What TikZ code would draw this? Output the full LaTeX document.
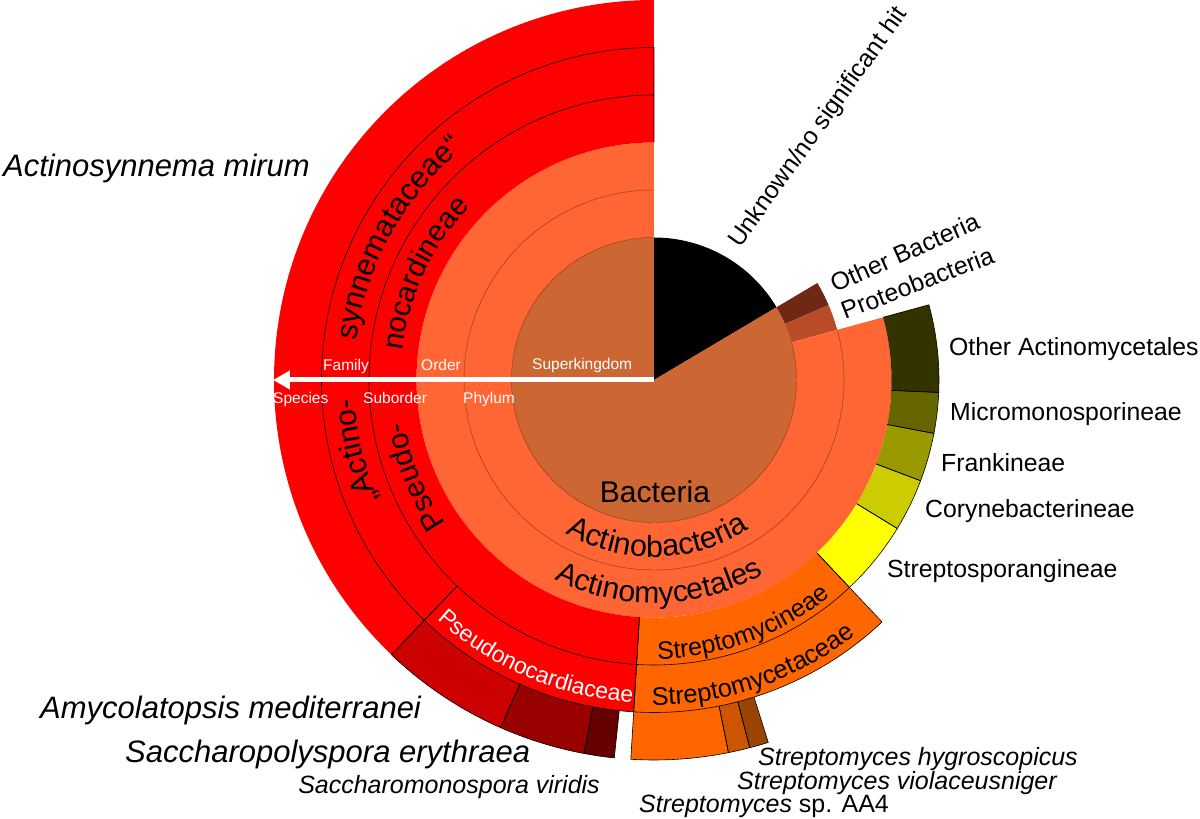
\documentclass[tikz,border=0pt]{standalone}
\usepackage{fontspec}
\setmainfont{Liberation Sans}
\usetikzlibrary{arrows.meta,decorations.text}
\definecolor{bact}{HTML}{CC6633}
\definecolor{actino}{HTML}{FF6633}
\definecolor{otherbact}{HTML}{6E2814}
\definecolor{proteo}{HTML}{B94B28}
\definecolor{pred}{HTML}{FF0000}
\definecolor{strepto}{HTML}{FF6600}
\definecolor{sporang}{HTML}{FFFF00}
\definecolor{coryne}{HTML}{CCCC00}
\definecolor{franki}{HTML}{999900}
\definecolor{micro}{HTML}{666600}
\definecolor{otheract}{HTML}{333300}
\definecolor{amyco}{HTML}{CC0000}
\definecolor{sacpoly}{HTML}{990000}
\definecolor{sacmono}{HTML}{660000}
\definecolor{violac}{HTML}{CC5500}
\definecolor{hygro}{HTML}{994400}
\definecolor{thinline}{HTML}{8C3214}
\tikzset{
  segline/.style={draw=black,line width=0.6pt,line join=miter},
  innerline/.style={draw=thinline,line width=0.45pt},
  axislabel/.style={text=white,font=\fontsize{15.5pt}{15.5pt}\selectfont,inner sep=0pt,anchor=base west},
  outlabel/.style={text=black,font=\fontsize{24.8pt}{24.8pt}\selectfont,inner sep=0pt,anchor=base west},
  biglabel/.style={text=black,font=\itshape\fontsize{31pt}{31pt}\selectfont,inner sep=0pt,anchor=base west},
  smalllabel/.style={text=black,font=\itshape\fontsize{25pt}{25pt}\selectfont,inner sep=0pt,anchor=base west}
}
\newcommand{\annfill}[5]{\fill[#1] (#2:#4pt) arc[start angle=#2,end angle=#3,radius=#4pt] -- (#3:#5pt) arc[start angle=#3,end angle=#2,radius=#5pt] -- cycle;}
\newcommand{\annedge}[4]{\draw[segline] (#1:#3pt) -- (#1:#4pt) arc[start angle=#1,end angle=#2,radius=#4pt] -- (#2:#3pt);}
\newcommand{\arctext}[6]{\path[decorate,decoration={text along path,text align=center,text={|\fontsize{#5pt}{#5pt}\selectfont|#6},#1}] (#2:#4pt) arc[start angle=#2,end angle=#3,radius=#4pt];}
\begin{document}
\begin{tikzpicture}[x=1pt,y=1pt]
\fill[white] (-654,-439) rectangle (546,380);
\useasboundingbox (-654,-439) rectangle (546,380);
% superkingdom
\fill[black] (0,0) -- (30.7:142.5pt) arc[start angle=30.7,end angle=90,radius=142.5pt] -- cycle;
\fill[bact] (0,0) -- (90:142.5pt) arc[start angle=90,end angle=390.7,radius=142.5pt] -- cycle;
% phylum
\annfill{otherbact}{23.2}{30.7}{142.5}{190}
\annfill{proteo}{15.3}{23.2}{142.5}{190}
\annfill{actino}{90}{375.3}{142.5}{190}
% order
\annfill{actino}{90}{375.3}{190}{237.5}
\draw[innerline] (90:142.5pt) arc[start angle=90,end angle=375.3,radius=142.5pt];
\draw[innerline] (90:190pt) arc[start angle=90,end angle=375.3,radius=190pt];
% suborder
\annfill{pred}{90}{266.5}{237.5}{285}
\annfill{strepto}{266.5}{313.3}{237.5}{285}
\annfill{sporang}{313.3}{328.6}{237.5}{285}
\annfill{coryne}{328.6}{339.3}{237.5}{285}
\annfill{franki}{339.3}{349.2}{237.5}{285}
\annfill{micro}{349.2}{357.5}{237.5}{285}
\annfill{otheract}{357.5}{375.3}{237.5}{285}
% family
\annfill{pred}{90}{226.3}{285}{332.5}
\annfill{pred}{226.3}{266.5}{285}{332.5}
\annfill{strepto}{266.5}{313.3}{285}{332.5}
% species
\annfill{pred}{90}{226.3}{332.5}{380}
\annfill{amyco}{226.3}{246.2}{332.5}{380}
\annfill{sacpoly}{246.2}{259.4}{332.5}{380}
\annfill{sacmono}{259.4}{264.0}{332.5}{380}
\annfill{strepto}{266.5}{281.3}{332.5}{380}
\annfill{violac}{281.3}{284.6}{332.5}{380}
\annfill{hygro}{284.6}{287.5}{332.5}{380}
% black separators
\annedge{313.3}{328.6}{237.5}{285}
\annedge{328.6}{339.3}{237.5}{285}
\annedge{339.3}{349.2}{237.5}{285}
\annedge{349.2}{357.5}{237.5}{285}
\annedge{357.5}{375.3}{237.5}{285}
\annedge{266.5}{313.3}{237.5}{285}
\annedge{90}{266.5}{237.5}{285}
\annedge{90}{226.3}{285}{332.5}
\annedge{226.3}{266.5}{285}{332.5}
\annedge{266.5}{313.3}{285}{332.5}
\draw[segline] (226.3:332.5pt) -- (226.3:380pt);
\annedge{226.3}{246.2}{332.5}{380}
\annedge{246.2}{259.4}{332.5}{380}
\annedge{259.4}{264.0}{332.5}{380}
\annedge{266.5}{281.3}{332.5}{380}
\annedge{281.3}{284.6}{332.5}{380}
\annedge{284.6}{287.5}{332.5}{380}
% axis arrow
\coordinate (ctr) at (0,0);
\coordinate (axisend) at (-381,0);
\draw[white,line width=5pt,-{Triangle[length=17pt,width=18pt]}] (ctr) -- (axisend);
\node[axislabel] (lsk) at (-122,10) {Superkingdom};
\node[axislabel] (lor) at (-233,9) {Order};
\node[axislabel] (lfa) at (-331,9) {Family};
\node[axislabel] (lsp) at (-381,-24) {Species};
\node[axislabel] (lso) at (-291,-24) {Suborder};
\node[axislabel] (lph) at (-191,-24) {Phylum};
% inner labels
\node[text=black,font=\fontsize{30pt}{30pt}\selectfont,inner sep=0pt,anchor=base] (lbact) at (1,-123) {Bacteria};
\arctext{}{231.3}{311.3}{177}{30.5}{Actinobacteria}
\arctext{}{226.5}{316.5}{223}{30}{Actinomycetales}
\arctext{}{260}{320}{279}{25}{Streptomycineae}
\arctext{}{259}{319}{325}{25.5}{Streptomycetaceae}
\arctext{text color=white}{217}{277}{323}{23}{Pseudonocardiaceae}
\arctext{}{195}{115}{253}{29.5}{nocardineae}
\arctext{}{237}{167}{253}{29.5}{Pseudo-}
\arctext{}{185}{117}{300}{30.5}{synnemataceae“}
\arctext{}{225}{162}{300}{30.5}{„Actino-}
% outer labels
\node[outlabel,rotate=54.5] (lunk) at (86,131) {Unknown/no significant hit};
\node[outlabel,rotate=24] (lob) at (181,87) {Other Bacteria};
\node[outlabel,rotate=21] (lpr) at (191,60) {Proteobacteria};
\node[outlabel] (loa) at (295,24) {Other Actinomycetales};
\node[outlabel] (lmi) at (296,-41) {Micromonosporineae};
\node[outlabel] (lfr) at (287,-92) {Frankineae};
\node[outlabel] (lco) at (271,-138) {Corynebacterineae};
\node[outlabel] (lst) at (233,-197) {Streptosporangineae};
% species labels
\node[biglabel] (lam) at (-651,203) {Actinosynnema mirum};
\node[biglabel] (lamy) at (-614,-338) {Amycolatopsis mediterranei};
\node[biglabel] (lsery) at (-529,-382) {Saccharopolyspora erythraea};
\node[smalllabel,anchor=base east] (lsvir) at (-54,-413) {Saccharomonospora viridis};
\node[smalllabel] (lhyg) at (104,-385) {Streptomyces hygroscopicus};
\node[smalllabel] (lvio) at (83,-409) {Streptomyces violaceusniger};
\node[smalllabel] (laa4) at (-15,-432) {Streptomyces\upshape{} sp. AA4};
\end{tikzpicture}
\end{document}
